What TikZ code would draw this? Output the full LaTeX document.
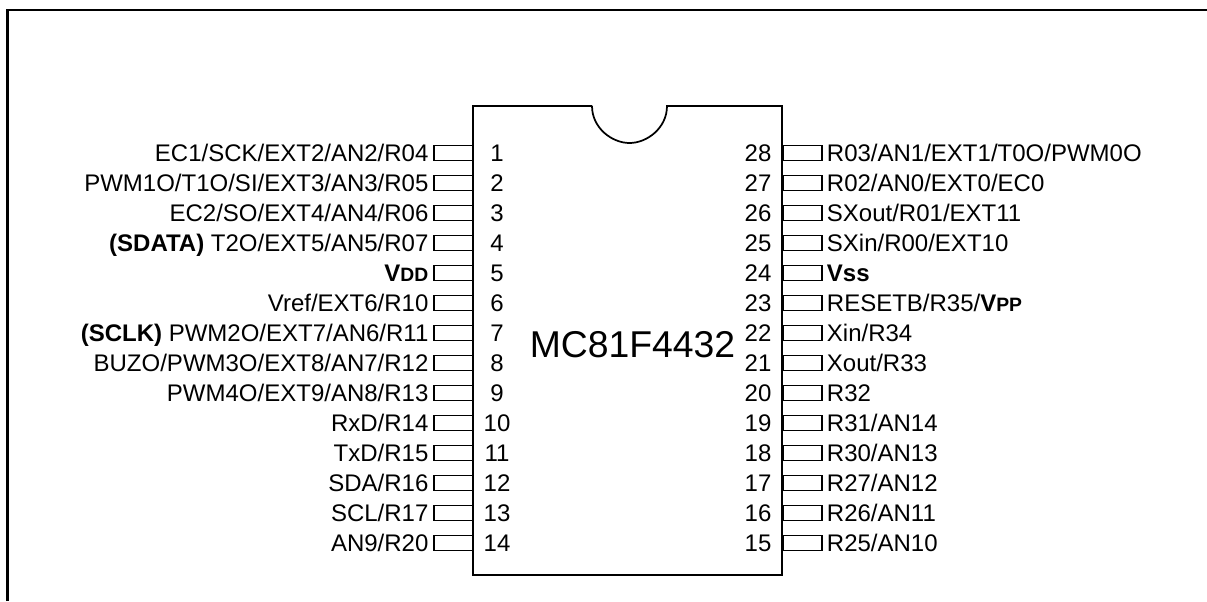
\documentclass[tikz,border=0pt]{standalone}
\usepackage{fontspec}
\setmainfont{Liberation Sans}
\usepackage{tikz}
\usetikzlibrary{
    positioning
}

\tikzset{
    pinbox/.style={draw, line width=1.3pt, minimum width=29.25pt, minimum height=11.25pt, inner sep=0pt, outer sep=0pt},
    pinnum/.style={inner sep=0pt, text height=12.9pt, text depth=0pt, font=\fontsize{18pt}{20pt}\selectfont},
    pintext/.style={inner sep=0pt, text height=12.9pt, text depth=0pt, font=\fontsize{18pt}{20pt}\selectfont}
}
\newcommand{\smallbold}[1]{{\bfseries\fontsize{14.5pt}{16pt}\selectfont #1}}

\begin{document}
\begin{tikzpicture}[x=0.75pt, y=-0.75pt]
    \useasboundingbox (0, 0) rectangle (1207, 601);

    % frame, open on the right and at the bottom
    \draw[line width=1.6pt] (7.5, 601) -- (7.5, 10) -- (1207, 10);

    % package outline with notch
    \draw[line width=1.3pt] (592, 106) -- (473, 106) -- (473, 575) -- (782, 575) -- (782, 106) -- (667, 106)
        .. controls (667, 128) and (647, 143) .. (629.5, 143)
        .. controls (612, 143) and (592, 128) .. (592, 106);
    \node[font=\fontsize{28pt}{32pt}\selectfont, inner sep=0pt] (chip) at (632.5, 345) {MC81F4432};

    % left side pins
    \node[pinbox] (pin1) at (453.5, 153) {};
    \node[pinbox] (pin2) at (453.5, 183) {};
    \node[pinbox] (pin3) at (453.5, 213) {};
    \node[pinbox] (pin4) at (453.5, 243) {};
    \node[pinbox] (pin5) at (453.5, 273) {};
    \node[pinbox] (pin6) at (453.5, 303) {};
    \node[pinbox] (pin7) at (453.5, 333) {};
    \node[pinbox] (pin8) at (453.5, 363) {};
    \node[pinbox] (pin9) at (453.5, 393) {};
    \node[pinbox] (pin10) at (453.5, 423) {};
    \node[pinbox] (pin11) at (453.5, 453) {};
    \node[pinbox] (pin12) at (453.5, 483) {};
    \node[pinbox] (pin13) at (453.5, 513) {};
    \node[pinbox] (pin14) at (453.5, 543) {};

    \node[pinnum] (num1) at (497, 153) {1};
    \node[pinnum] (num2) at (497, 183) {2};
    \node[pinnum] (num3) at (497, 213) {3};
    \node[pinnum] (num4) at (497, 243) {4};
    \node[pinnum] (num5) at (497, 273) {5};
    \node[pinnum] (num6) at (497, 303) {6};
    \node[pinnum] (num7) at (497, 333) {7};
    \node[pinnum] (num8) at (497, 363) {8};
    \node[pinnum] (num9) at (497, 393) {9};
    \node[pinnum] (num10) at (497, 423) {10};
    \node[pinnum] (num11) at (497, 453) {11};
    \node[pinnum] (num12) at (497, 483) {12};
    \node[pinnum] (num13) at (497, 513) {13};
    \node[pinnum] (num14) at (497, 543) {14};

    \node[pintext, left=4pt of pin1] (lab1) {EC1/SCK/EXT2/AN2/R04};
    \node[pintext, left=4pt of pin2] (lab2) {PWM1O/T1O/SI/EXT3/AN3/R05};
    \node[pintext, left=4pt of pin3] (lab3) {EC2/SO/EXT4/AN4/R06};
    \node[pintext, left=4pt of pin4] (lab4) {\textbf{(SDATA)} T2O/EXT5/AN5/R07};
    \node[pintext, left=4pt of pin5] (lab5) {\textbf{V}\smallbold{DD}};
    \node[pintext, left=4pt of pin6] (lab6) {Vref/EXT6/R10};
    \node[pintext, left=4pt of pin7] (lab7) {\textbf{(SCLK)} PWM2O/EXT7/AN6/R11};
    \node[pintext, left=4pt of pin8] (lab8) {BUZO/PWM3O/EXT8/AN7/R12};
    \node[pintext, left=4pt of pin9] (lab9) {PWM4O/EXT9/AN8/R13};
    \node[pintext, left=4pt of pin10] (lab10) {RxD/R14};
    \node[pintext, left=4pt of pin11] (lab11) {TxD/R15};
    \node[pintext, left=4pt of pin12] (lab12) {SDA/R16};
    \node[pintext, left=4pt of pin13] (lab13) {SCL/R17};
    \node[pintext, left=4pt of pin14] (lab14) {AN9/R20};

    % right side pins
    \node[pinbox] (pin28) at (802.5, 153) {};
    \node[pinbox] (pin27) at (802.5, 183) {};
    \node[pinbox] (pin26) at (802.5, 213) {};
    \node[pinbox] (pin25) at (802.5, 243) {};
    \node[pinbox] (pin24) at (802.5, 273) {};
    \node[pinbox] (pin23) at (802.5, 303) {};
    \node[pinbox] (pin22) at (802.5, 333) {};
    \node[pinbox] (pin21) at (802.5, 363) {};
    \node[pinbox] (pin20) at (802.5, 393) {};
    \node[pinbox] (pin19) at (802.5, 423) {};
    \node[pinbox] (pin18) at (802.5, 453) {};
    \node[pinbox] (pin17) at (802.5, 483) {};
    \node[pinbox] (pin16) at (802.5, 513) {};
    \node[pinbox] (pin15) at (802.5, 543) {};

    \node[pinnum] (num28) at (758, 153) {28};
    \node[pinnum] (num27) at (758, 183) {27};
    \node[pinnum] (num26) at (758, 213) {26};
    \node[pinnum] (num25) at (758, 243) {25};
    \node[pinnum] (num24) at (758, 273) {24};
    \node[pinnum] (num23) at (758, 303) {23};
    \node[pinnum] (num22) at (758, 333) {22};
    \node[pinnum] (num21) at (758, 363) {21};
    \node[pinnum] (num20) at (758, 393) {20};
    \node[pinnum] (num19) at (758, 423) {19};
    \node[pinnum] (num18) at (758, 453) {18};
    \node[pinnum] (num17) at (758, 483) {17};
    \node[pinnum] (num16) at (758, 513) {16};
    \node[pinnum] (num15) at (758, 543) {15};

    \node[pintext, right=3.5pt of pin28] (lab28) {R03/AN1/EXT1/T0O/PWM0O};
    \node[pintext, right=3.5pt of pin27] (lab27) {R02/AN0/EXT0/EC0};
    \node[pintext, right=3.5pt of pin26] (lab26) {SXout/R01/EXT11};
    \node[pintext, right=3.5pt of pin25] (lab25) {SXin/R00/EXT10};
    \node[pintext, right=3.5pt of pin24] (lab24) {\textbf{Vss}};
    \node[pintext, right=3.5pt of pin23] (lab23) {RESETB/R35/\textbf{V}\smallbold{PP}};
    \node[pintext, right=3.5pt of pin22] (lab22) {Xin/R34};
    \node[pintext, right=3.5pt of pin21] (lab21) {Xout/R33};
    \node[pintext, right=3.5pt of pin20] (lab20) {R32};
    \node[pintext, right=3.5pt of pin19] (lab19) {R31/AN14};
    \node[pintext, right=3.5pt of pin18] (lab18) {R30/AN13};
    \node[pintext, right=3.5pt of pin17] (lab17) {R27/AN12};
    \node[pintext, right=3.5pt of pin16] (lab16) {R26/AN11};
    \node[pintext, right=3.5pt of pin15] (lab15) {R25/AN10};
\end{tikzpicture}
\end{document}
